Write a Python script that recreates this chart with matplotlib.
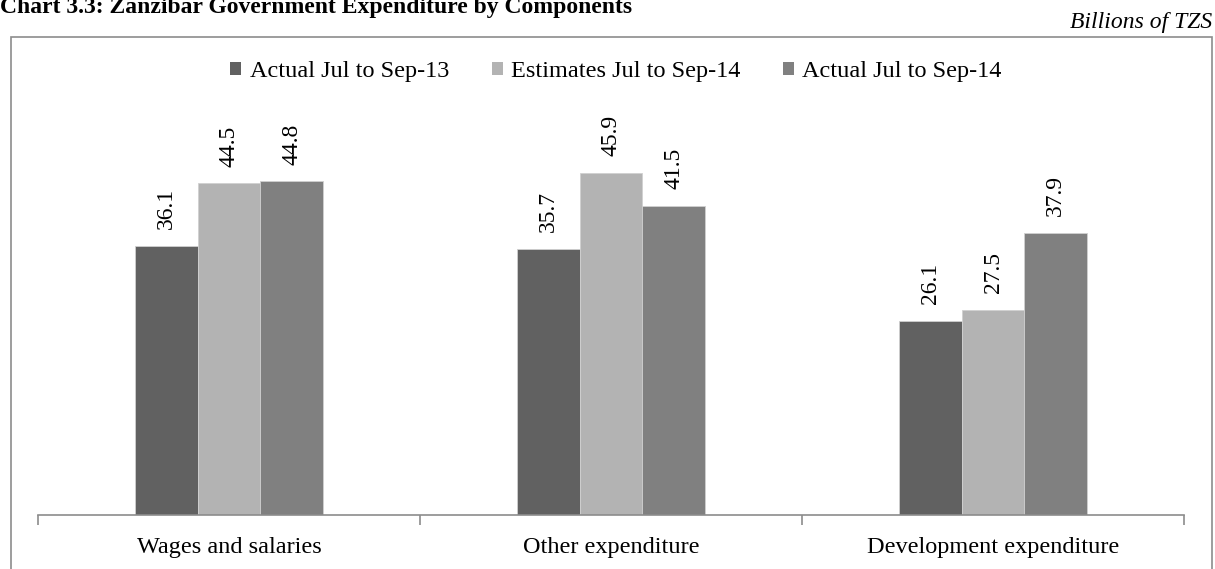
import matplotlib.pyplot as plt
from matplotlib.patches import Rectangle, Patch

plt.rcParams['font.family'] = ['Liberation Serif', 'DejaVu Serif']

# Data (Billions of TZS)
categories = ['Wages and salaries', 'Other expenditure', 'Development expenditure']
series_names = ['Actual Jul to Sep-13', 'Estimates Jul to Sep-14', 'Actual Jul to Sep-14']
actual_13 = [36.1, 35.7, 26.1]
estimates_14 = [44.5, 45.9, 27.5]
actual_14 = [44.8, 41.5, 37.9]
colors = ['#616161', '#b3b3b3', '#808080']

W, H = 1215, 569
fig = plt.figure(figsize=(W / 100, H / 100), dpi=100)

# outer chart frame
fig.patches.append(Rectangle((11 / W, -0.01), (1212 - 11) / W, 1.01 - 37 / H,
                             transform=fig.transFigure, fill=False,
                             edgecolor='#8c8c8c', linewidth=1.2))

# title (cut off at top of image, as in the reference) and unit note
fig.text(0.5 / W, 1 - 13 / H, 'Chart 3.3: Zanzibar Government Expenditure by Components',
         fontsize=17, fontweight='bold', ha='left', va='baseline')
fig.text(1212 / W, 1 - 28 / H, 'Billions of TZS', fontsize=17, style='italic',
         ha='right', va='baseline')

# plot area: baseline at y=515, 0..60 scale
ax = fig.add_axes([38 / W, (H - 515) / H, (1184 - 38) / W, 447 / H])
ax.set_xlim(-0.5, len(categories) - 0.5)
ax.set_ylim(0, 60)

w = 0.164
series = [actual_13, estimates_14, actual_14]
for i, (vals, name, c) in enumerate(zip(series, series_names, colors)):
    xs = [k + (i - 1) * w for k in range(len(categories))]
    bars = ax.bar(xs, vals, width=w, color=c, edgecolor='#d0d0d0',
                  linewidth=0.6, label=name, zorder=2)
    for b, v in zip(bars, vals):
        ax.annotate(f'{v:.1f}', (b.get_x() + b.get_width() / 2, v),
                    xytext=(0, 12), textcoords='offset points',
                    rotation=90, ha='center', va='bottom', fontsize=17)

for s in ['top', 'right', 'left']:
    ax.spines[s].set_visible(False)
ax.spines['bottom'].set_color('#8c8c8c')
ax.spines['bottom'].set_linewidth(1.2)
ax.set_yticks([])
ax.set_xticks([-0.5, 0.5, 1.5, 2.5])
ax.set_xticklabels([])
ax.tick_params(axis='x', length=7, color='#8c8c8c', width=1.2, direction='out')
for k, cat in enumerate(categories):
    ax.text(k, -38 / 447, cat, transform=ax.get_xaxis_transform(), ha='center',
            va='baseline', fontsize=17.5)

handles = [Patch(facecolor=c, edgecolor='none') for c in colors]
fig.legend(handles, series_names, loc='center', bbox_to_anchor=(616 / W, 1 - 72 / H),
           ncol=3, frameon=False, fontsize=17.5, handlelength=0.45,
           handleheight=0.45, handletextpad=0.35, columnspacing=1.75,
           borderaxespad=0)

fig.savefig('out.png', dpi=100)
